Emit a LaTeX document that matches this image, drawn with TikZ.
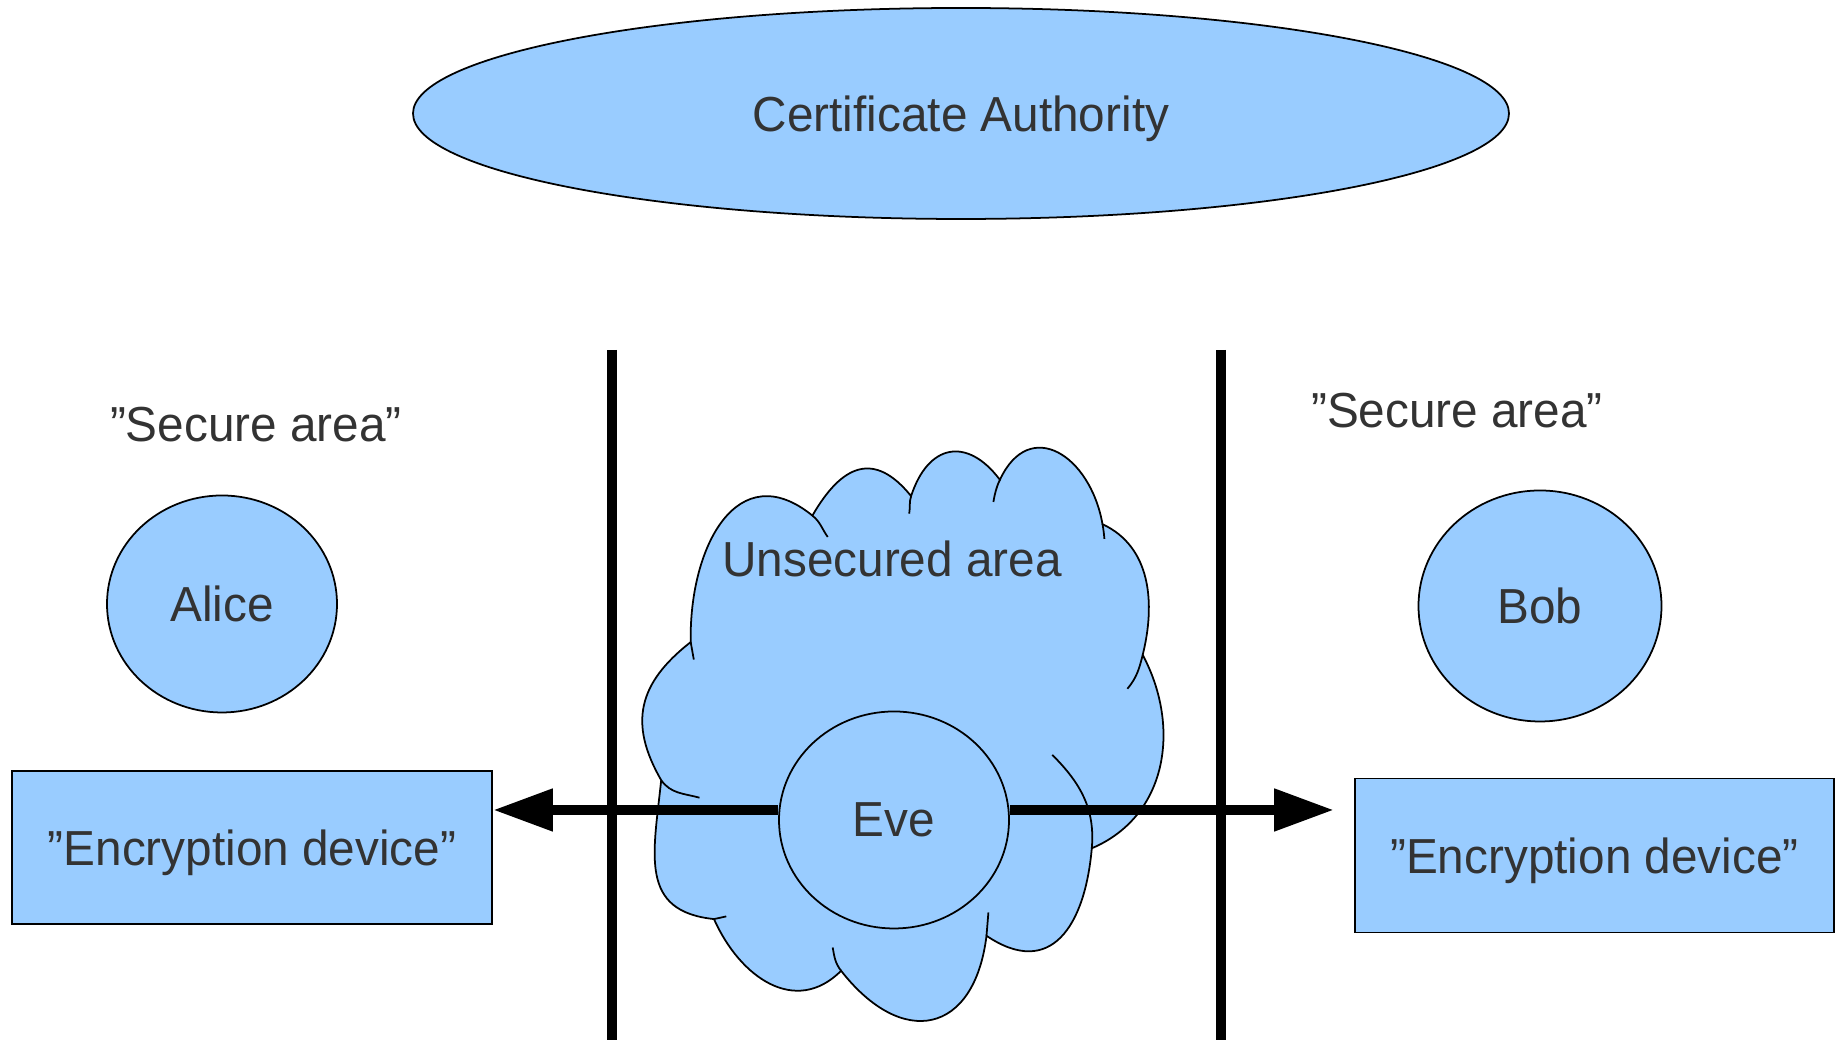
\documentclass[tikz,border=0pt]{standalone}
\usepackage{fontspec}
\setmainfont{Liberation Sans}[FakeStretch=0.97]
\usepackage{tikz}
\usetikzlibrary{shapes,arrows.meta,positioning,calc}

\definecolor{skyblue}{RGB}{153,204,255}
\definecolor{inkgray}{RGB}{51,51,51}

\tikzset{
  blob/.style={draw=black, line width=0.5pt, fill=skyblue},
  person/.style={blob, ellipse, inner sep=0pt},
  device/.style={blob, rectangle, minimum width=4.8cm, minimum height=1.53cm},
  wall/.style={line width=3pt},
  bigarrow/.style={line width=3.1pt, -{Triangle[length=6mm,width=4mm]}},
  every node/.style={text=inkgray, text depth=0pt, font=\fontsize{14}{17}\selectfont},
}

\begin{document}
\begin{tikzpicture}
        \useasboundingbox (0,0) rectangle (18.35,10.40);

        % Certificate Authority
        \node[person, minimum width=10.96cm, minimum height=2.11cm] (ca) at (9.61,9.265) {Certificate Authority};

        % Secure areas
        \node (securel) at (2.56,6.16) {”Secure area”};
        \node (securer) at (14.57,6.30) {”Secure area”};

        % Alice and Bob
        \node[person, minimum width=2.30cm, minimum height=2.17cm] (alice) at (2.22,4.36) {Alice};
        \node[person, minimum width=2.43cm, minimum height=2.31cm] (bob) at (15.40,4.34) {Bob};

        % Encryption devices
        \node[device] (encl) at (2.52,1.925) {”Encryption device”};
        \node[device, minimum width=4.79cm, minimum height=1.54cm] (encr) at (15.945,1.845) {”Encryption device”};

        % Walls
        \draw[wall] (6.12,6.90) -- (6.12,0);
        \draw[wall] (12.21,6.90) -- (12.21,0);

        % Unsecured area (cloud)
        \filldraw[blob] (6.907,3.979)
            to[out=91,in=141,looseness=1.4] (8.124,5.244)
            to[out=60,in=129,looseness=1.5] (9.111,5.439)
            to[out=72,in=127,looseness=1.55] (9.999,5.602)
            to[out=65,in=100,looseness=1.6] (11.025,5.158)
            to[out=-25,in=76,looseness=1.0] (11.427,3.851)
            to[out=-62,in=23,looseness=1.05] (10.918,1.917)
            to[out=-95,in=-34,looseness=1.45] (9.865,1.042)
            to[out=-97,in=-52,looseness=1.7] (8.411,0.692)
            to[out=225,in=-66,looseness=1.2] (7.140,1.209)
            to[out=174,in=-96,looseness=1.3] (6.612,2.598)
            to[out=120,in=218,looseness=1.2] (6.907,3.979) -- cycle;
        % cloud tails
        \draw[line width=0.5pt] (6.938,3.804) -- (6.907,3.979);
        \draw[line width=0.5pt] (8.124,5.244) to[out=-39,in=125] (8.277,5.030);
        \draw[line width=0.5pt] (9.092,5.263) to[out=80,in=-108] (9.111,5.439);
        \draw[line width=0.5pt] (9.934,5.380) to[out=80,in=-115] (9.999,5.602);
        \draw[line width=0.5pt] (11.025,5.158) to[out=-80,in=95] (11.044,5.011);
        \draw[line width=0.5pt] (11.427,3.851) to[out=-104,in=50] (11.274,3.512);
        \draw[line width=0.5pt] (10.523,2.851) to[out=-45,in=85] (10.918,1.917);
        \draw[line width=0.5pt] (9.884,1.275) -- (9.865,1.042);
        \draw[line width=0.5pt] (8.411,0.692) to[out=128,in=-80] (8.327,0.925);
        \draw[line width=0.5pt] (7.263,1.236) -- (7.140,1.209);
        \draw[line width=0.5pt] (6.995,2.423) to[out=165,in=-55] (6.612,2.598);
        \node (unsec) at (8.92,4.81) {Unsecured area};

        % Eve
        \node[person, minimum width=2.30cm, minimum height=2.17cm] (eve) at (8.94,2.20) {Eve};
        \coordinate (lvl) at (0,2.30);
        \draw[bigarrow] (eve.west |- lvl) -- (encl.east |- lvl);
        \draw[bigarrow] (eve.east |- lvl) -- ($(encr.west |- lvl)+(-0.2,0)$);
    \end{tikzpicture}
\end{document}
